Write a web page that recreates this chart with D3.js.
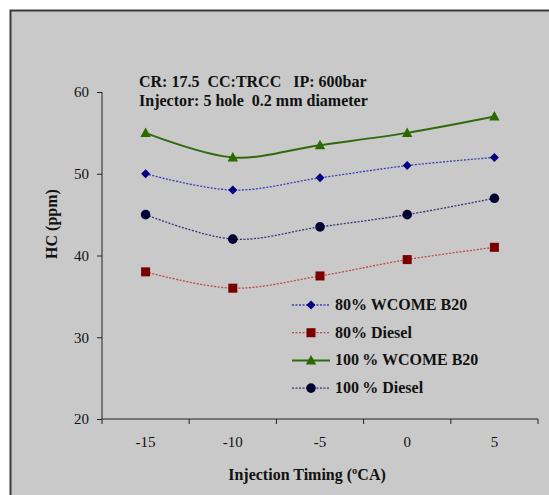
<!DOCTYPE html>
<html>
<head>
<meta charset="utf-8">
<script src="https://cdn.jsdelivr.net/npm/d3@7"></script>
<style>
  html, body { margin: 0; padding: 0; background: #ffffff; }
  svg { display: block; }
  svg text { font-family: "Liberation Serif", "Times New Roman", "DejaVu Serif", serif !important; fill: #111; }
</style>
</head>
<body>
<div id="chart"></div>
<script>
// Injection timing (ºCA) categories and HC emissions (ppm) per fuel/load
const timings = [-15, -10, -5, 0, 5];
const wcome80 = [50, 48, 49.5, 51, 52];
const diesel80 = [38, 36, 37.5, 39.5, 41];
const wcome100 = [55, 52, 53.5, 55, 57];
const diesel100 = [45, 42, 43.5, 45, 47];
const yTicks = [20, 30, 40, 50, 60];

const seriesNames = ["80% WCOME B20", "80% Diesel", "100 % WCOME B20", "100 % Diesel"];

const series = [
  { name: seriesNames[0], values: wcome80, line: "#3a3ab8", marker: "#000080", shape: "diamond", dash: "2,1.5", width: 1.3 },
  { name: seriesNames[1], values: diesel80, line: "#c04848", marker: "#7a0000", shape: "square", dash: "2,1.5", width: 1.3 },
  { name: seriesNames[2], values: wcome100, line: "#2f6a0c", marker: "#2a6a00", shape: "triangle", dash: null, width: 2 },
  { name: seriesNames[3], values: diesel100, line: "#34347a", marker: "#000033", shape: "circle", dash: "2,1.5", width: 1.3 }
];

const FONT = "Liberation Serif, Times New Roman, DejaVu Serif, serif";
const W = 549, H = 495;
const svg = d3.select("#chart").append("svg").attr("width", W).attr("height", H)
  .attr("font-family", FONT);

// chart area background with dark frame on the top and left
svg.append("rect").attr("x", 10).attr("y", 10).attr("width", W).attr("height", H)
  .attr("fill", "#c9c9c9");
svg.append("path").attr("d", `M10.5,${H} V10.5 H${W}`)
  .attr("fill", "none").attr("stroke", "#3a3a3a").attr("stroke-width", 2);

const plot = { left: 102, right: 538, top: 92, bottom: 419 };

const x = d3.scaleBand().domain(timings).range([plot.left, plot.right]);
const y = d3.scaleLinear().domain([20, 60]).range([plot.bottom, plot.top]);

// y axis
const yAxis = svg.append("g").attr("transform", `translate(${plot.left},0)`)
  .call(d3.axisLeft(y).tickValues(yTicks).tickSize(5).tickPadding(8));
yAxis.attr("font-family", FONT).attr("font-size", 15);
yAxis.select(".domain").attr("stroke", "#222").attr("d", `M0,${plot.top}V${plot.bottom}`);
yAxis.selectAll(".tick line").attr("stroke", "#222");
yAxis.selectAll("text").attr("fill", "#111");

// x axis with ticks on category boundaries
const xAxis = svg.append("g").attr("transform", `translate(0,${plot.bottom})`);
xAxis.append("line").attr("x1", plot.left).attr("x2", plot.right).attr("stroke", "#222");
const bounds = timings.map(t => x(t)).concat([plot.right]);
xAxis.selectAll("line.tk").data(bounds).join("line").attr("class", "tk")
  .attr("x1", d => d).attr("x2", d => d).attr("y1", 0).attr("y2", 5).attr("stroke", "#222");
xAxis.selectAll("text").data(timings).join("text")
  .attr("x", d => x(d) + x.bandwidth() / 2).attr("y", 28)
  .attr("text-anchor", "middle").attr("font-size", 15).text(d => d);

// axis titles
svg.append("text").attr("transform", "translate(57,224) rotate(-90)")
  .attr("text-anchor", "middle").attr("font-size", 16).attr("font-weight", "bold").text("HC (ppm)");
svg.append("text").attr("x", 307).attr("y", 480)
  .attr("text-anchor", "middle").attr("font-size", 16).attr("font-weight", "bold").text("Injection Timing (ºCA)");

// test condition annotation
svg.append("text").attr("x", 139).attr("y", 87).attr("font-size", 16).attr("font-weight", "bold")
  .attr("xml:space", "preserve").text("CR: 17.5  CC:TRCC   IP: 600bar");
svg.append("text").attr("x", 139).attr("y", 106).attr("font-size", 16).attr("font-weight", "bold")
  .attr("xml:space", "preserve").text("Injector: 5 hole  0.2 mm diameter");

const cx = d => x(d) + x.bandwidth() / 2;
const line = d3.line().x((d, i) => cx(timings[i])).y(d => y(d)).curve(d3.curveCatmullRom.alpha(0.5));

function drawMarker(g, shape, color) {
  if (shape === "diamond") g.append("path").attr("d", "M0,-4.5 L4.5,0 L0,4.5 L-4.5,0Z").attr("fill", color);
  else if (shape === "square") g.append("rect").attr("x", -4.5).attr("y", -4.5).attr("width", 9).attr("height", 9).attr("fill", color);
  else if (shape === "triangle") g.append("path").attr("d", "M0,-5.5 L5.2,4 L-5.2,4Z").attr("fill", color);
  else g.append("circle").attr("r", 4.8).attr("fill", color);
}

series.forEach(s => {
  svg.append("path").datum(s.values).attr("d", line)
    .attr("fill", "none").attr("stroke", s.line).attr("stroke-width", s.width)
    .attr("stroke-dasharray", s.dash);
  s.values.forEach((v, i) => {
    const g = svg.append("g").attr("transform", `translate(${cx(timings[i])},${y(v)})`);
    drawMarker(g, s.shape, s.marker);
  });
});

// legend
const legend = svg.append("g");
series.forEach((s, i) => {
  const ly = 305 + i * 27.7;
  legend.append("line").attr("x1", 292).attr("x2", 330).attr("y1", ly).attr("y2", ly)
    .attr("stroke", s.line).attr("stroke-width", s.width).attr("stroke-dasharray", s.dash);
  const g = legend.append("g").attr("transform", `translate(311,${ly})`);
  drawMarker(g, s.shape, s.marker);
  legend.append("text").attr("x", 335).attr("y", ly + 5).attr("font-size", 16)
    .attr("font-weight", "bold").attr("xml:space", "preserve")
    .text(s.name.replace("100 %", "100\u2009%"));
});
</script>
</body>
</html>
